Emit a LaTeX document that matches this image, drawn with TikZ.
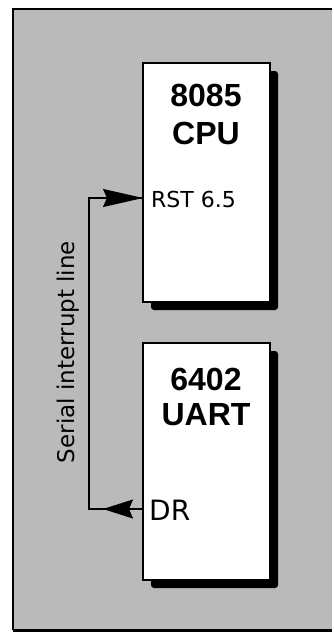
\documentclass[tikz,border=0pt]{standalone}
\usepackage{fontspec}
\setmainfont{DejaVu Sans}
\newfontfamily\titlefont{Liberation Sans}
\usetikzlibrary{arrows.meta}
\begin{document}
\begin{tikzpicture}[x=1pt,y=-1pt,
  chip/.style={draw=black,line width=1.8pt,fill=white},
  chipshadow/.style={fill=black,rounded corners=3pt},
  title/.style={inner sep=0pt,font=\titlefont\fontsize{32}{34}\selectfont\bfseries},
  port/.style={inner sep=0pt,anchor=west},
  wire/.style={line width=1.5pt,draw=black},
  bigtip/.style={-{Stealth[length=40pt,width=18pt,inset=4pt]}},
  smalltip/.style={-{Stealth[length=30pt,width=19pt,inset=4pt]}}]
\useasboundingbox (0,0) rectangle (333,635);
% background frame
\fill[black!27] (13,9) rectangle (332,630);
\draw[line width=1.2pt] (13,630) -- (13,9) -- (332,9);
\draw[line width=3pt] (13,630) -- (332,630);
% chip shadows
\fill[chipshadow] (151,71) rectangle (278,310);
\fill[chipshadow] (151,351) rectangle (278,588);
% chips
\node[chip,minimum width=127pt,minimum height=239pt] (cpu) at (206.5,182.5) {};
\node[chip,minimum width=127pt,minimum height=237pt] (uart) at (206.5,461.5) {};
\node[title] (cpuA) at (206,95) {8085};
\node[title] (cpuB) at (206,133) {CPU};
\node[title] (uartA) at (206,379) {6402};
\node[title] (uartB) at (206,415) {UART};
\node[port,font=\fontsize{22}{24}\selectfont] (rstlbl) at (151,199) {RST 6.5};
\node[port,font=\fontsize{28}{30}\selectfont] (drlbl) at (149,510) {DR};
% wire
\coordinate (rst) at (143,198);
\coordinate (dr) at (143,509);
\coordinate (top) at (89,198);
\coordinate (bot) at (89,509);
\coordinate (drtip) at (103,509);
\draw[wire] (dr) -- (bot) -- (top) -- (rst);
\draw[wire,bigtip] (top) -- (rst);
\draw[wire,smalltip] (dr) -- (drtip);
\node[rotate=90,inner sep=0pt,font=\fontsize{23}{25}\selectfont] (lbl) at (68,352) {Serial interrupt line};
\end{tikzpicture}
\end{document}
